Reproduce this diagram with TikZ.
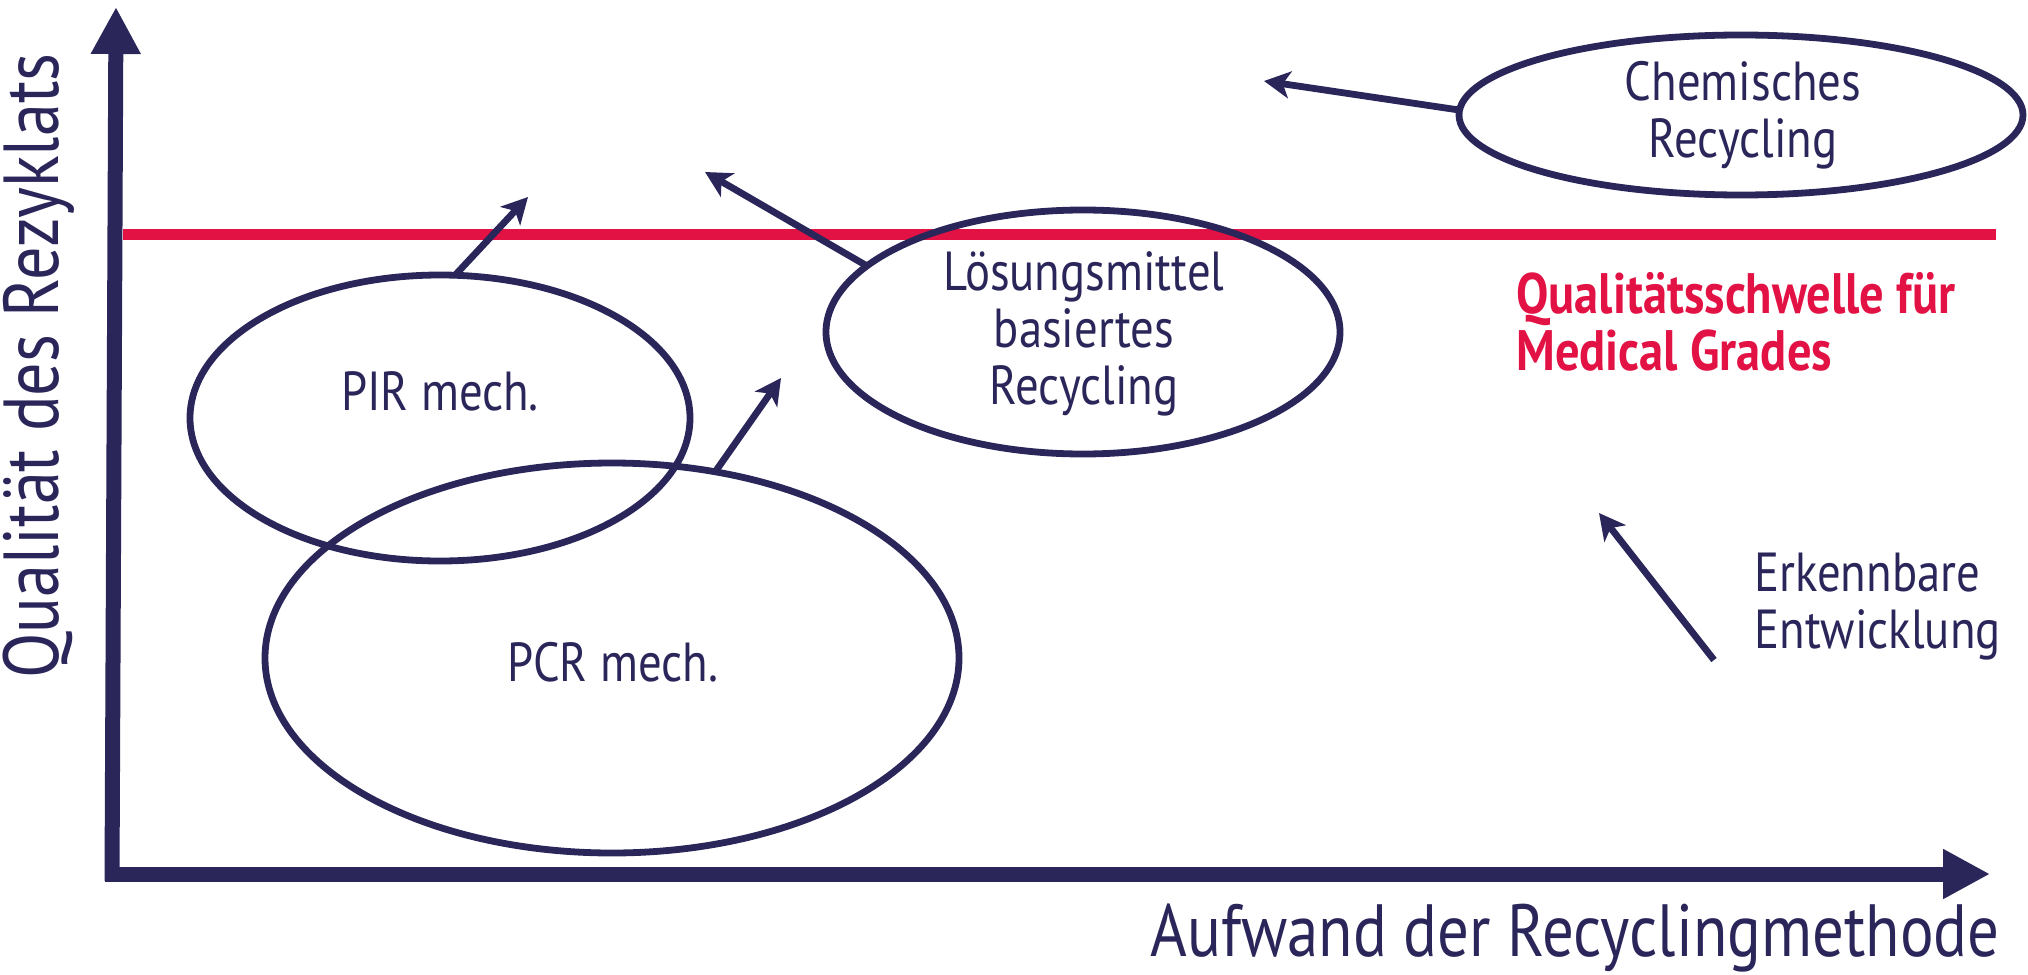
\documentclass[tikz,border=0pt]{standalone}
\usepackage{fontspec}
\setmainfont[FakeStretch=0.85]{PT Sans}
\usetikzlibrary{shapes.geometric,arrows.meta}
\definecolor{navy}{RGB}{42,38,90}
\definecolor{crimson}{RGB}{227,18,69}
\tikzset{
  blob/.style={ellipse,draw=navy,line width=3.4pt,inner sep=0pt,outer sep=0pt},
  lbl/.style={text=navy,font=\fontsize{27.5}{28.5}\selectfont,align=center,inner sep=0pt},
  axlbl/.style={text=navy,font=\fontsize{37}{40}\selectfont,inner sep=0pt},
  trend/.style={draw=navy,line width=3.4pt,-{Stealth[length=13pt,width=13.5pt,inset=3.5pt]}},
  axis/.style={draw=navy,line width=7.5pt,-{Triangle[length=23.5pt,width=23.5pt]}},
}
\begin{document}
\begin{tikzpicture}[x=0.5pt,y=-0.5pt]
\useasboundingbox (0,0) rectangle (2028,974);
% threshold line
\coordinate (tl) at (123,234);
\coordinate (tr) at (1996,234);
\draw[crimson,line width=5.5pt] (tl) -- (tr);
% axes
\coordinate (yb) at (112,881);
\coordinate (ytip) at (116,7);
\coordinate (xs) at (105,874);
\coordinate (xtip) at (1990,874);
\draw[axis] (yb) -- (ytip);
\draw[axis] (xs) -- (xtip);
\node[axlbl] (xlab) at (1575,938) {Aufwand der Recyclingmethode};
\node[axlbl,font=\fontsize{39}{40}\selectfont,rotate=90] (ylab) at (39,366) {Qualität des Rezyklats};
% ellipses
\node[blob,minimum width=250pt,minimum height=143pt] (pir) at (440,418) {};
\node[blob,minimum width=347pt,minimum height=195pt] (pcr) at (612,658) {};
\node[blob,minimum width=257pt,minimum height=122pt] (lsm) at (1083,332) {};
\node[blob,minimum width=282pt,minimum height=80pt] (chem) at (1741,115) {};
% labels
\node[lbl] (pirt) at (440,391) {PIR mech.};
\node[lbl] (pcrt) at (613,662) {PCR mech.};
\node[lbl] (lsmt) at (1084,334) {Lösungsmittel\\basiertes\\Recycling};
\node[lbl] (chemt) at (1743,115) {Chemisches\\Recycling};
\node[lbl,text=crimson,font=\fontsize{28.5}{28.5}\selectfont\bfseries,align=left,anchor=west] (thr) at (1516,322) {Qualitätsschwelle für\\Medical Grades};
\node[lbl,align=left,anchor=west] (dev) at (1754,607) {Erkennbare\\Entwicklung};
% trend arrows
\coordinate (a1) at (528,197);
\coordinate (a2) at (781,378);
\coordinate (a3) at (705,172);
\coordinate (a4) at (1264,81);
\coordinate (a5s) at (1714,660);
\coordinate (a5) at (1599,513);
\draw[trend] (pir.84) -- (a1);
\draw[trend] (pcr.61.5) -- (a2);
\draw[trend] (lsm.163.2) -- (a3);
\draw[trend] (chem.179) -- (a4);
\draw[trend] (a5s) -- (a5);
\end{tikzpicture}
\end{document}
